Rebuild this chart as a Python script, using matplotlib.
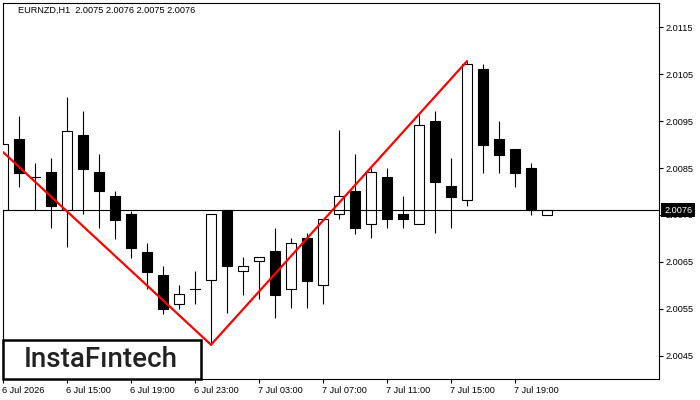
import matplotlib
matplotlib.use("Agg")
import matplotlib.pyplot as plt
from matplotlib.patches import Rectangle
from matplotlib.transforms import ScaledTranslation, blended_transform_factory

# ---------------- data ----------------
opens  = [2.00760, 2.00912, 2.00830, 2.00841, 2.00760, 2.00920, 2.00841, 2.00790, 2.00752, 2.00671,
          2.00622, 2.00559, 2.00592, 2.00611, 2.00760, 2.00630, 2.00651, 2.00672, 2.00591, 2.00701,
          2.00600, 2.00751, 2.00801, 2.00731, 2.00830, 2.00751, 2.00731, 2.00950, 2.00812, 2.00781,
          2.01061, 2.00912, 2.00891, 2.00850, 2.00750]
highs  = [2.00901, 2.00961, 2.00861, 2.00871, 2.01002, 2.00972, 2.00880, 2.00801, 2.00759, 2.00691,
          2.00641, 2.00601, 2.00630, 2.00752, 2.00760, 2.00661, 2.00660, 2.00721, 2.00701, 2.00712,
          2.00741, 2.00931, 2.00880, 2.00849, 2.00849, 2.00790, 2.00962, 2.00972, 2.00872, 2.01078,
          2.01072, 2.00950, 2.00891, 2.00860, 2.00760]
lows   = [2.00741, 2.00810, 2.00760, 2.00721, 2.00681, 2.00752, 2.00722, 2.00699, 2.00659, 2.00591,
          2.00539, 2.00549, 2.00559, 2.00473, 2.00540, 2.00579, 2.00570, 2.00530, 2.00551, 2.00551,
          2.00559, 2.00741, 2.00709, 2.00700, 2.00721, 2.00721, 2.00731, 2.00711, 2.00721, 2.00770,
          2.00840, 2.00840, 2.00810, 2.00750, 2.00750]
closes = [2.00901, 2.00840, 2.00830, 2.00770, 2.00930, 2.00848, 2.00800, 2.00740, 2.00680, 2.00629,
          2.00550, 2.00581, 2.00592, 2.00752, 2.00640, 2.00640, 2.00660, 2.00580, 2.00690, 2.00610,
          2.00741, 2.00790, 2.00721, 2.00841, 2.00741, 2.00741, 2.00941, 2.00820, 2.00789, 2.01071,
          2.00900, 2.00878, 2.00840, 2.00760, 2.00760]

xtick_pos    = [0, 4, 8, 12, 16, 20, 24, 28, 32]
xtick_labels = ["6 Jul 2026", "6 Jul 15:00", "6 Jul 19:00", "6 Jul 23:00", "7 Jul 03:00",
                "7 Jul 07:00", "7 Jul 11:00", "7 Jul 15:00", "7 Jul 19:00"]
ytick_vals   = [2.0045, 2.0055, 2.0065, 2.0075, 2.0085, 2.0095, 2.0105, 2.0115]
ytick_labels = ["2.0045", "2.0055", "2.0065", "2.0075", "2.0085", "2.0095", "2.0105", "2.0115"]

pattern_x = [0, 13, 29]
pattern_y = [2.00884, 2.00473, 2.01078]

current_price = 2.0076
title_text = "EURNZD,H1  2.0075 2.0076 2.0075 2.0076"
logo_text = "InstaF\u0131ntech"

# ---------------- figure ----------------
W, H = 700, 400
fig = plt.figure(figsize=(7, 4), dpi=100)
FONT = "Liberation Sans"
FS = 6.6

ax = fig.add_axes([3 / W, 1 - 379 / H, (659 - 3) / W, (379 - 2.5) / H])
ax.set_xlim(0, 41)
ax.set_ylim(2.0040, 2.01203)

body_w = 0.66
for i, (o, h, l, c) in enumerate(zip(opens, highs, lows, closes)):
    top, bot = max(o, c), min(o, c)
    ax.plot([i, i], [l, h], color="black", lw=0.8, zorder=2, solid_capstyle="butt")
    if abs(c - o) < 1e-7:
        ax.plot([i - body_w / 2, i + body_w / 2], [o, o], color="black", lw=0.8, zorder=3)
    else:
        fc = "white" if c > o else "black"
        ax.add_patch(Rectangle((i - body_w / 2, bot), body_w, top - bot,
                               facecolor=fc, edgecolor="black", lw=0.8, zorder=3))

ax.axhline(current_price, color="black", lw=0.8, zorder=4)
ax.plot(pattern_x, pattern_y, color="#ff0000", lw=1.6, zorder=5, solid_capstyle="round")

for s in ax.spines.values():
    s.set_linewidth(0.8)
    s.set_color("black")

ax.yaxis.tick_right()
ax.set_yticks(ytick_vals)
ax.set_yticklabels(ytick_labels, fontsize=FS, family=FONT)
ax.set_xticks(xtick_pos)
ax.set_xticklabels(xtick_labels, fontsize=FS, family=FONT)
ax.tick_params(axis="y", direction="out", length=3, width=0.8, pad=2, colors="black")
ax.tick_params(axis="x", direction="out", length=3, width=0.8, pad=2, colors="black")
for lab in ax.get_xticklabels():
    lab.set_horizontalalignment("left")
    lab.set_transform(lab.get_transform() + ScaledTranslation(-1.5 / 100, 0, fig.dpi_scale_trans))

# current price box (covers the 2.0075 tick label, as in the reference)
tr = blended_transform_factory(ax.transAxes, ax.transData)
ax.text(1.0, current_price, "2.0076", transform=tr + ScaledTranslation(5 / 100, 0, fig.dpi_scale_trans),
        ha="left", va="center", fontsize=FS, family=FONT, color="white", zorder=10, clip_on=False,
        bbox=dict(boxstyle="square,pad=0.3", fc="black", ec="none"))

# title
fig.text(18 / W, 1 - 10.7 / H, title_text, fontsize=FS, family=FONT, color="black",
         ha="left", va="center")

# logo
fig.patches.append(Rectangle((3 / W, 1 - 378.5 / H), 198 / W, 38.5 / H, transform=fig.transFigure,
                             facecolor="white", edgecolor="black", lw=1.8, zorder=20))
fig.text(101 / W, 1 - 359.5 / H, logo_text, fontsize=20, family="Roboto", fontweight="medium",
         color="#222222", ha="center", va="center", zorder=21)

fig.savefig("out.png", dpi=100)
